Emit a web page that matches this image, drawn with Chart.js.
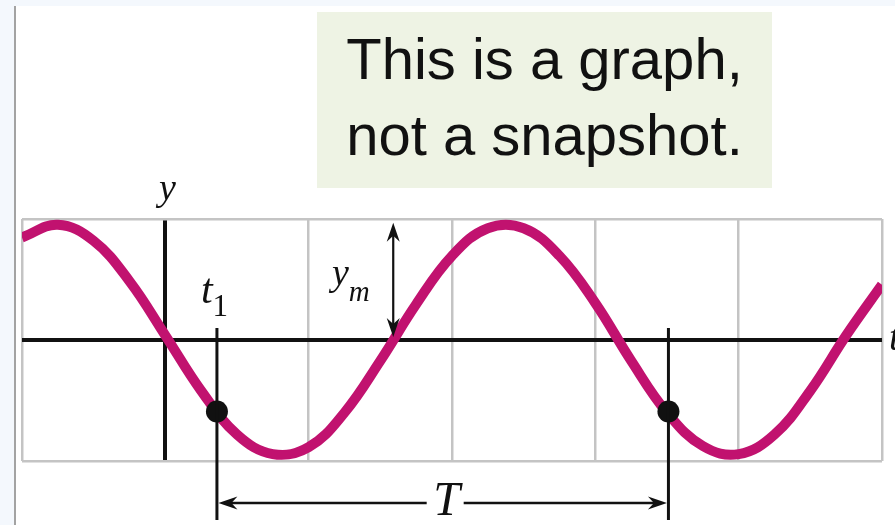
<!DOCTYPE html>
<html>
<head>
<meta charset="utf-8">
<script src="https://cdn.jsdelivr.net/npm/chart.js@4"></script>
<style>
  html, body { margin: 0; padding: 0; }
  body { width: 895px; height: 525px; background: #f4f8fd; position: relative; overflow: hidden; }
  .panel { position: absolute; left: 14px; top: 6px; right: 0; bottom: 0; background: #fff; border-left: 2px solid #a3a3a3; }
  #wrap { position: absolute; left: 0; top: 0; width: 895px; height: 525px; }
  .note {
    position: absolute; left: 317px; top: 12px; width: 455px; height: 176px;
    background: #eef3e4; color: #111; text-align: center;
    font-family: "Liberation Sans", Arial, sans-serif; font-size: 58px; line-height: 76px;
    padding-top: 9px; box-sizing: border-box;
  }
</style>
</head>
<body>
<div class="panel"></div>
<div id="wrap"><canvas id="wave" width="895" height="525"></canvas></div>
<div class="note">This is a graph,<br>not a snapshot.</div>

<script>
// time axis runs in grid units, the y axis sits at t = 0
const tValues = [-1, -0.75, -0.5, -0.25, 0, 0.25, 0.5, 0.75, 1, 1.25, 1.5, 1.75, 2,
                 2.25, 2.5, 2.75, 3, 3.25, 3.5, 3.75, 4, 4.25, 4.5, 4.75, 5];
// displacement in units of the amplitude y_m
const yValues = [0.89, 1.00, 0.86, 0.51, 0.04, -0.44, -0.82, -0.99, -0.93, -0.63, -0.18, 0.31, 0.73,
                 0.97, 0.97, 0.73, 0.32, -0.18, -0.63, -0.92, -0.99, -0.82, -0.44, 0.04, 0.48];

// the two marked instants, one period apart
const markT = [0.36, 3.51];
const markY = [-0.62, -0.62];

// where the amplitude arrow is drawn
const ymAt = 1.59;
const ymValue = 1;

const tRange = [-1, 5];
const yRange = [-1.05, 1.05];
const yGridLines = [-1.05, 0, 1.05];

const MAGENTA = '#c1126f';
const INK = '#111';
const GRID = '#c4c4c4';
const SERIF = '"Liberation Serif", "DejaVu Serif", serif';

function arrowHead(ctx, x, y, dx, dy) {
  // concave arrowhead pointing along (dx, dy)
  const len = 19, half = 6.5, notch = 13;
  const px = -dy, py = dx;
  ctx.beginPath();
  ctx.moveTo(x, y);
  ctx.lineTo(x - dx * len + px * half, y - dy * len + py * half);
  ctx.lineTo(x - dx * notch, y - dy * notch);
  ctx.lineTo(x - dx * len - px * half, y - dy * len - py * half);
  ctx.closePath();
  ctx.fill();
}

// symbol with a subscript right after it
function subscripted(ctx, main, sub, x, base, mainFont, subFont, drop) {
  ctx.font = mainFont;
  ctx.fillText(main, x, base);
  const w = ctx.measureText(main).width;
  ctx.font = subFont;
  ctx.fillText(sub, x + w, base + drop);
}

const labels = {
  id: 'labels',
  afterDatasetsDraw(chart) {
    const { ctx, chartArea: a, scales: { x, y } } = chart;
    const y0 = y.getPixelForValue(0);
    const x1 = x.getPixelForValue(markT[0]);
    const x2 = x.getPixelForValue(markT[1]);

    ctx.save();
    ctx.strokeStyle = INK;
    ctx.fillStyle = INK;

    // drop lines at t1 and t1 + T
    ctx.lineWidth = 3;
    [x1, x2].forEach(px => {
      ctx.beginPath();
      ctx.moveTo(px, y0 - 12);
      ctx.lineTo(px, a.bottom + 59);
      ctx.stroke();
    });

    // period arrow
    const ay = a.bottom + 42;
    const mid = (x1 + x2) / 2 + 4;
    ctx.lineWidth = 2.4;
    ctx.beginPath();
    ctx.moveTo(x1 + 12, ay); ctx.lineTo(mid - 20, ay);
    ctx.moveTo(mid + 17, ay); ctx.lineTo(x2 - 12, ay);
    ctx.stroke();
    arrowHead(ctx, x1 + 1.5, ay, -1, 0);
    arrowHead(ctx, x2 - 1.5, ay, 1, 0);

    // amplitude arrow
    const mx = x.getPixelForValue(ymAt);
    const top = y.getPixelForValue(ymValue) - 2;
    const bot = y0 - 3;
    ctx.lineWidth = 2.2;
    ctx.beginPath();
    ctx.moveTo(mx, top + 12); ctx.lineTo(mx, bot - 12);
    ctx.stroke();
    arrowHead(ctx, mx, top, 0, -1);
    arrowHead(ctx, mx, bot, 0, 1);

    // italic symbols
    ctx.textBaseline = 'alphabetic';
    ctx.textAlign = 'center';
    ctx.font = 'italic 38px ' + SERIF;
    ctx.fillText('y', x.getPixelForValue(0) + 2, a.top - 19);

    ctx.font = 'italic 48px ' + SERIF;
    ctx.fillText('T', mid, a.bottom + 54);

    ctx.textAlign = 'left';
    subscripted(ctx, 't', '1', x1 - 16, 303, 'italic 42px ' + SERIF, '31px ' + SERIF, 13);
    subscripted(ctx, 'y', 'm', 332, 285, 'italic 38px ' + SERIF, 'italic 29px ' + SERIF, 16);

    ctx.font = 'italic 40px ' + SERIF;
    ctx.fillText('t', 889, 350);
    ctx.restore();
  }
};

new Chart(document.getElementById('wave'), {
  type: 'line',
  data: {
    datasets: [
      {
        label: 'marks',
        type: 'scatter',
        data: markT.map((t, i) => ({ x: t, y: markY[i] })),
        pointRadius: 11,
        pointBackgroundColor: INK,
        pointBorderWidth: 0,
        order: 0,
      },
      {
        label: 'y(t)',
        data: tValues.map((t, i) => ({ x: t, y: yValues[i] })),
        borderColor: MAGENTA,
        borderWidth: 10,
        pointRadius: 0,
        tension: 0.4,
        fill: false,
        order: 1,
      },
    ],
  },
  options: {
    responsive: false,
    animation: false,
    events: [],
    layout: { autoPadding: false, padding: { left: 22, right: 13, top: 219, bottom: 64 } },
    plugins: { legend: { display: false }, tooltip: { enabled: false } },
    scales: {
      x: {
        type: 'linear',
        min: tRange[0], max: tRange[1],
        ticks: { display: false, stepSize: 1 },
        border: { display: false },
        grid: {
          drawTicks: false,
          color: (c) => c.tick && c.tick.value === 0 ? INK : GRID,
          lineWidth: (c) => c.tick && c.tick.value === 0 ? 4 : 2.5,
        },
      },
      y: {
        min: yRange[0], max: yRange[1],
        ticks: { display: false },
        afterBuildTicks: (s) => { s.ticks = yGridLines.map(v => ({ value: v })); },
        border: { display: false },
        grid: {
          drawTicks: false,
          color: (c) => c.tick && c.tick.value === 0 ? INK : GRID,
          lineWidth: (c) => c.tick && c.tick.value === 0 ? 4 : 2.5,
        },
      },
    },
  },
  plugins: [labels],
});
</script>
</body>
</html>
